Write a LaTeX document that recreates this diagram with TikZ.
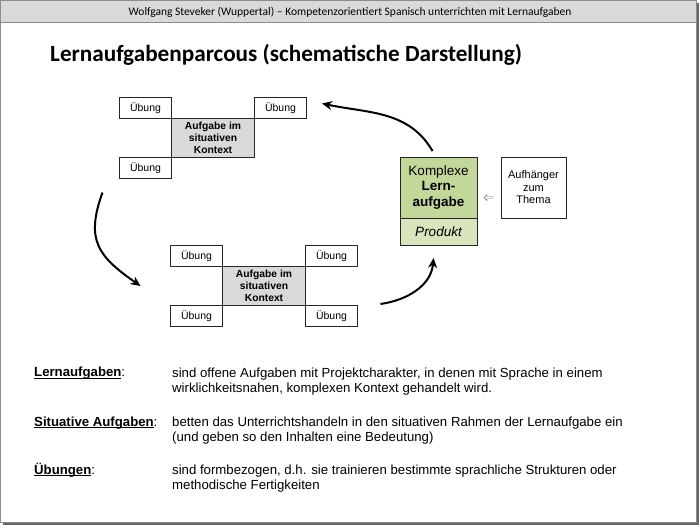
\documentclass[tikz,border=0pt]{standalone}
\usepackage{fontspec}
\setmainfont{Liberation Sans}
\newfontfamily\calibri{Carlito}
\usetikzlibrary{positioning,arrows.meta,shapes.arrows,calc}
\definecolor{lernoben}{RGB}{196,215,155}
\definecolor{lernunten}{RGB}{216,228,188}
\newcommand{\unterstrich}[1]{\begingroup\setbox0\hbox{#1}\rlap{\rule[-1.8pt]{\wd0}{0.7pt}}\box0\endgroup}

\begin{document}
\begin{tikzpicture}[
  x=1pt, y=1pt,
  caja/.style={draw=black!85, line width=0.8pt, inner sep=0pt, outer sep=0pt},
  uebung/.style={caja, fill=white, minimum width=52pt, minimum height=21pt, font=\fontsize{10.5}{12}\selectfont},
  situativ/.style={caja, fill=black!15, minimum width=83pt, minimum height=39pt, align=center, font=\fontsize{10.3}{11.8}\selectfont\bfseries},
  flecha/.style={line width=2pt, -{Stealth[length=10pt,width=9pt]}},
  etiqueta/.style={anchor=base west, inner sep=0pt, font=\fontsize{13.2}{15}\selectfont},
  texto/.style={anchor=base west, inner sep=0pt, align=left, font=\fontsize{13.2}{15}\selectfont}
]
  \useasboundingbox (0,0) rectangle (700,527);

  % Marco
  \fill[black!60] (3,2) rectangle (699,524);
  \filldraw[fill=white, draw=black!45, line width=0.8pt] (0.5,5) rectangle (696,526.5);
  \filldraw[fill=black!15, draw=black!45, line width=0.8pt] (0.5,505) rectangle (696,526.5);
  \node[font=\calibri\fontsize{11.5}{13}\selectfont] (kopf) at (350,515)
    {Wolfgang Steveker (Wuppertal) – Kompetenzorientiert Spanisch unterrichten mit Lernaufgaben};
  \node[anchor=base west, inner sep=0pt, font=\calibri\bfseries\fontsize{23.2}{26}\selectfont] (titel) at (50,465)
    {Lernaufgabenparcous (schematische Darstellung)};

  % Aufgaben im situativen Kontext
  \foreach \g/\px/\py in {A/213/389, B/264/241} {
    \node[situativ] (sit\g) at (\px,\py) {Aufgabe im\\situativen\\Kontext};
    \node[uebung, anchor=south east] (ueNW\g) at (sit\g.north west) {Übung};
    \node[uebung, anchor=south west] (ueNE\g) at (sit\g.north east) {Übung};
    \node[uebung, anchor=north east] (ueSW\g) at (sit\g.south west) {Übung};
  }
  \node[uebung, anchor=north west] (ueSEB) at (sitB.south east) {Übung};

  % Lernaufgabe
  \node[caja, fill=lernoben, minimum width=77pt, minimum height=61pt, align=center,
        font=\fontsize{13.5}{15.5}\selectfont] (lern) at (438.5,339.5)
    {Komplexe\\\textbf{Lern-}\\\textbf{aufgabe}};
  \node[caja, fill=lernunten, minimum width=77pt, minimum height=27pt, anchor=north,
        font=\fontsize{13.5}{15}\selectfont\itshape] (prod) at (lern.south) {Produkt};
  \node[caja, fill=white, minimum width=65pt, minimum height=61pt, align=center,
        font=\fontsize{11}{12.5}\selectfont, right=24pt of lern] (aufh) {Aufhänger\\zum\\Thema};
  \node[single arrow, draw=black!60, fill=white, line width=0.4pt, shape border rotate=180,
        minimum height=9pt, minimum width=6pt, inner sep=0.6pt, single arrow head extend=1.5pt]
    (hinweis) at ($(lern.east)!0.5!(aufh.west)+(0,-10)$) {};

  % Flechas
  \coordinate (f1a) at ($(lern.north)+(-6,6)$);
  \coordinate (f1b) at ($(ueNEA.east)+(15.5,4.5)$);
  \coordinate (f2a) at ($(ueSWA.south)+(-43,-14)$);
  \coordinate (f2b) at ($(ueNWB.west)+(-30,-30)$);
  \coordinate (f3a) at ($(ueNEB.east)+(23,-48)$);
  \coordinate (f3b) at ($(prod.south)+(-5,-13)$);
  \draw[flecha] (f1a) to[out=120, in=-12] (f1b);
  \draw[flecha] (f2a) to[out=-110, in=145, looseness=1.3] (f2b);
  \draw[flecha] (f3a) to[out=8, in=-95] (f3b);

  % Begriffe
  \node[etiqueta] (defL) at (34,150) {\unterstrich{\textbf{Lernaufgaben}}:};
  \node[texto] (txtL) at (172,135)
    {sind offene Aufgaben mit Projektcharakter, in denen mit Sprache in einem\\wirklichkeitsnahen, komplexen Kontext gehandelt wird.};
  \node[etiqueta] (defS) at (34,101) {\unterstrich{\textbf{Situative Aufgaben}}:};
  \node[texto] (txtS) at (172,86)
    {betten das Unterrichtshandeln in den situativen Rahmen der Lernaufgabe ein\\(und geben so den Inhalten eine Bedeutung)};
  \node[etiqueta] (defU) at (34,53) {\unterstrich{\textbf{Übungen}}:};
  \node[texto] (txtU) at (172,38)
    {sind formbezogen, d.h. sie trainieren bestimmte sprachliche Strukturen oder\\methodische Fertigkeiten};
\end{tikzpicture}
\end{document}
